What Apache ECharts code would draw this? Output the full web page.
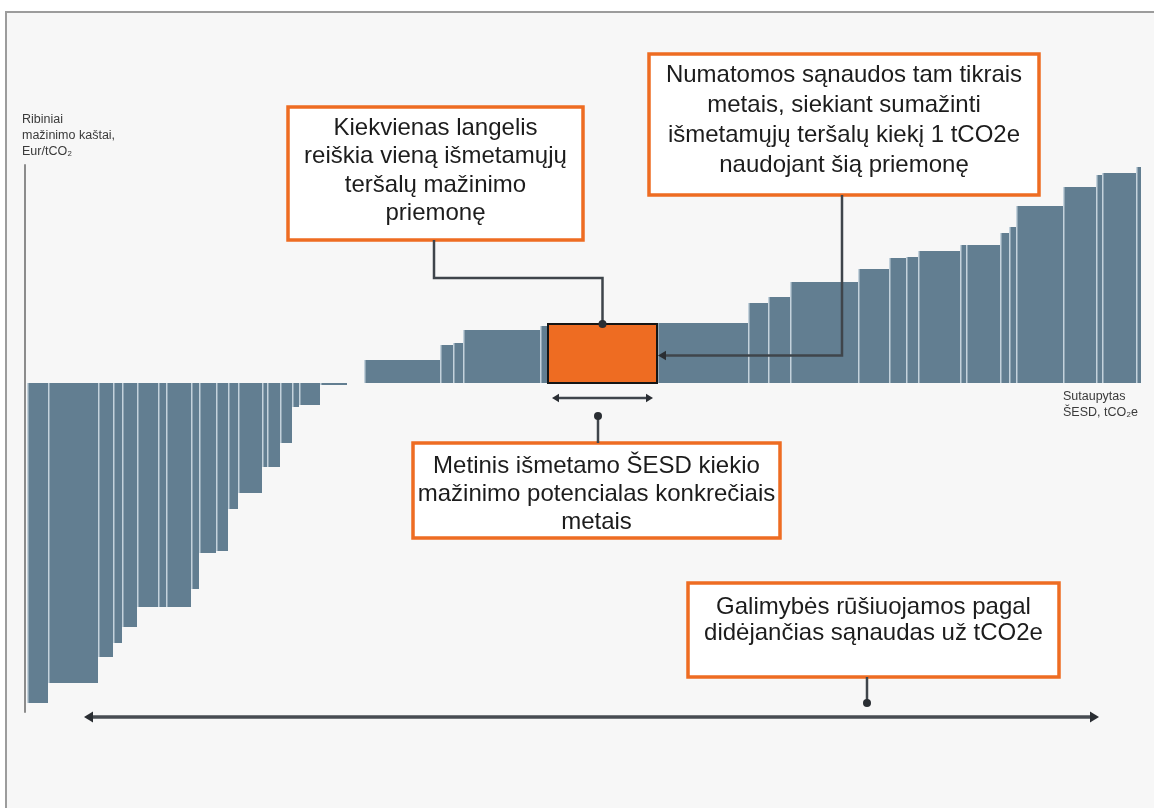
<!DOCTYPE html>
<html>
<head>
<meta charset="utf-8">
<title>Ribinių mažinimo kaštų kreivė</title>
<script src="https://cdn.jsdelivr.net/npm/echarts@6/dist/echarts.min.js"></script>
<style>
  html, body { margin: 0; padding: 0; background: #ffffff; }
  #chart { width: 1154px; height: 808px; }
</style>
</head>
<body>
<div id="chart"></div>
<script>
// abatement potential of each measure (width of a block), in 10 ktCO2e units
var potentials = [
  2.1, 5.0, 1.5, 0.9, 1.5, 2.1, 0.8, 2.5, 0.8, 1.7, 1.2, 1.0, 2.4, 0.5, 1.3, 1.2, 0.7, 2.1, 2.7, 1.7,
  7.6, 1.3, 1.0, 7.7, 0.8, 10.9, 9.1, 2.0, 2.2, 6.8, 3.1, 1.7, 1.2, 4.2, 0.6, 3.4, 0.9, 0.7, 4.7, 3.3, 0.6, 3.4, 0.5
];
// marginal cost of each measure, Eur/tCO2e
var costs = [
  -160, -150, -137, -130, -122, -112, -112, -112, -103, -85, -84, -63, -55, -42, -42, -30, -12, -11, -1, 0,
  11.5, 19, 20, 26.5, 28.5, 29.5, 30, 40, 43, 50.5, 57, 62.5, 63, 66, 69, 69, 75, 78, 88.5, 98, 104, 105, 108
];
// the measure that is explained by the callouts
var highlightIndex = 25;

var yAxisTitle = 'Ribiniai\nmažinimo kaštai,\nEur/tCO₂';
var xAxisTitle = 'Sutaupytas\nŠESD, tCO₂e';
var boxTexts = [
  'Kiekvienas langelis\nreiškia vieną išmetamųjų\nteršalų mažinimo\npriemonę',
  'Numatomos sąnaudos tam tikrais\nmetais, siekiant sumažinti\nišmetamųjų teršalų kiekį 1 tCO2e\nnaudojant šią priemonę',
  'Metinis išmetamo ŠESD kiekio\nmažinimo potencialas konkrečiais\nmetais',
  'Galimybės rūšiuojamos pagal\ndidėjančias sąnaudas už tCO2e'
];

var BAR = '#627e91';
var SEP = '#c4d2dc';
var ORANGE = '#ee6c22';
var INK = '#3f454b';

var blocks = [];
var acc = 0;
potentials.forEach(function (w, i) {
  blocks.push([acc, acc + w, costs[i], i === highlightIndex ? 1 : 0]);
  acc += w;
});

var chart = echarts.init(document.getElementById('chart'));

chart.setOption({
  animation: false,
  backgroundColor: '#ffffff',
  grid: { left: 27, right: 13, top: 165, bottom: 96 },
  xAxis: {
    type: 'value', min: 0, max: acc,
    show: false
  },
  yAxis: {
    type: 'value', min: -164.5, max: 109,
    offset: 2,
    axisLine: { show: true, onZero: false, lineStyle: { color: '#8c8c8c', width: 2 } },
    axisTick: { show: false },
    axisLabel: { show: false },
    splitLine: { show: false }
  },
  series: [{
    type: 'custom',
    data: blocks,
    encode: { x: [0, 1], y: 2 },
    renderItem: function (params, api) {
      var c = api.value(2);
      if (c === 0) return null;
      var p0 = api.coord([api.value(0), c]);
      var p1 = api.coord([api.value(1), 0]);
      var top = Math.min(p0[1], p1[1]);
      var h = Math.abs(p1[1] - p0[1]);
      var hi = api.value(3) === 1;
      var kids = [{
        type: 'rect',
        z2: hi ? 10 : 1,
        shape: { x: p0[0], y: top, width: p1[0] - p0[0], height: h },
        style: hi ? { fill: ORANGE, stroke: '#151515', lineWidth: 2 } : { fill: BAR }
      }];
      if (!hi) {
        kids.push({
          type: 'line',
          z2: 2,
          shape: { x1: p0[0] + 0.75, y1: top, x2: p0[0] + 0.75, y2: top + h },
          style: { stroke: SEP, lineWidth: 1.5 }
        });
      }
      return { type: 'group', children: kids };
    }
  }]
});

// callouts, anchored to the highlighted block
var hb = blocks[highlightIndex];
var oL = chart.convertToPixel({ gridIndex: 0 }, [hb[0], hb[2]]);
var oR = chart.convertToPixel({ gridIndex: 0 }, [hb[1], 0]);
var oMid = (oL[0] + oR[0]) / 2;
var oTop = oL[1], oBot = oR[1];

function line(pts, w, color) {
  return { type: 'polyline', z: 20, shape: { points: pts }, style: { stroke: color || INK, lineWidth: w || 2.5, fill: null } };
}
function dot(x, y, r) {
  return { type: 'circle', z: 21, shape: { cx: x, cy: y, r: r || 4 }, style: { fill: '#2a2e33' } };
}
function head(x, y, dir, s) {
  s = s || 7;
  var pts = dir === 'left'
    ? [[x, y], [x + s, y - s * 0.6], [x + s, y + s * 0.6]]
    : [[x, y], [x - s, y - s * 0.6], [x - s, y + s * 0.6]];
  return { type: 'polygon', z: 21, shape: { points: pts }, style: { fill: '#2a2e33' } };
}
function box(x, y, w, h, text, lh, textTop) {
  return [{
    type: 'rect', z: 15,
    shape: { x: x, y: y, width: w, height: h },
    style: { fill: '#ffffff', stroke: ORANGE, lineWidth: 3.5 }
  }, {
    type: 'text', z: 16,
    x: x + w / 2, y: textTop,
    style: {
      text: text, fill: '#1c1c1c', font: '24px "Liberation Sans", Arial, sans-serif',
      align: 'center', verticalAlign: 'top', lineHeight: lh
    }
  }];
}

var g = [];
// frame
g.push({ type: 'rect', z: -10, shape: { x: 6, y: 12, width: 1160, height: 810 }, style: { fill: '#f7f7f7', stroke: '#9c9c9c', lineWidth: 2 } });

// axis titles
g.push({ type: 'text', z: 5, x: 22, y: 112, style: { text: yAxisTitle, fill: '#3a3a3a', font: '12.5px "Liberation Sans", Arial, sans-serif', lineHeight: 16, verticalAlign: 'top' } });
g.push({ type: 'text', z: 5, x: 1063, y: 389, style: { text: xAxisTitle, fill: '#3a3a3a', font: '12.5px "Liberation Sans", Arial, sans-serif', lineHeight: 16, verticalAlign: 'top' } });

// box 1 and its connector to the top of the block
g = g.concat(box(288, 107, 295, 133, boxTexts[0], 28.5, 114));
g.push(line([[434, 240], [434, 278], [oMid, 278], [oMid, oTop]]));
g.push(dot(oMid, oTop));

// box 2 and its connector to the right side of the block
g = g.concat(box(649, 54, 390, 141, boxTexts[1], 30, 60));
var midY = (oTop + oBot) / 2 + 2;
g.push(line([[842, 195], [842, midY], [oR[0] + 6, midY]]));
g.push(head(oR[0] + 1, midY, 'left', 8));

// width arrow below the block and box 3
var ay = oBot + 15;
g.push(line([[oL[0] + 10, ay], [oR[0] - 10, ay]], 2.5));
g.push(head(oL[0] + 4, ay, 'left', 7));
g.push(head(oR[0] - 4, ay, 'right', 7));
g.push(line([[598, 416], [598, 443]]));
g.push(dot(598, 416));
g = g.concat(box(413, 443, 367, 95, boxTexts[2], 28, 452));

// long arrow along the whole curve and box 4
g.push(line([[92, 717], [1091, 717]], 3.5, '#474c52'));
g.push(head(84, 717, 'left', 9));
g.push(head(1099, 717, 'right', 9));
g.push(line([[867, 677], [867, 703]]));
g.push(dot(867, 703));
g = g.concat(box(688, 583, 371, 94, boxTexts[3], 26, 594));

chart.setOption({ graphic: g });
</script>
</body>
</html>
